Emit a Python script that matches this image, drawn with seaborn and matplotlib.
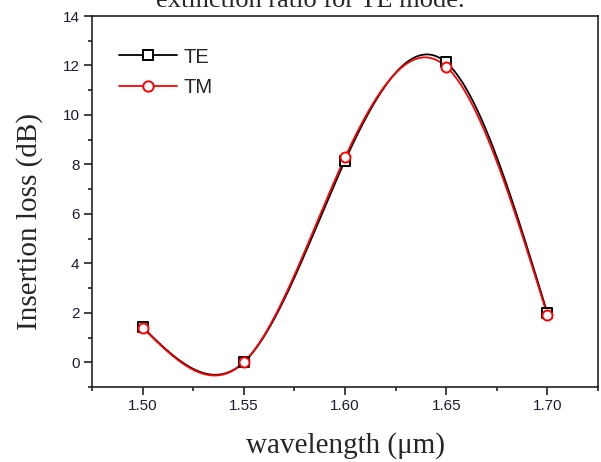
import numpy as np
import pandas as pd
import matplotlib
matplotlib.use("Agg")
import matplotlib.pyplot as plt
from matplotlib.lines import Line2D
from matplotlib.ticker import MultipleLocator, FormatStrFormatter
import seaborn as sns

# ---- data ----
wavelength = [1.50, 1.55, 1.60, 1.65, 1.70]
te_loss = [1.42, 0.00, 8.15, 12.12, 1.98]
tm_loss = [1.40, 0.00, 8.28, 11.95, 1.90]
series_names = ["TE", "TM"]
x_ticks = [1.50, 1.55, 1.60, 1.65, 1.70]
y_ticks = [0, 2, 4, 6, 8, 10, 12, 14]


def natural_spline(x, y, n=300):
    """Smooth (Origin-style spline) connection line through the measured points."""
    x = np.asarray(x, float)
    y = np.asarray(y, float)
    k = len(x)
    h = np.diff(x)
    A = np.zeros((k, k))
    b = np.zeros(k)
    A[0, 0] = A[-1, -1] = 1
    for i in range(1, k - 1):
        A[i, i - 1] = h[i - 1]
        A[i, i] = 2 * (h[i - 1] + h[i])
        A[i, i + 1] = h[i]
        b[i] = 6 * ((y[i + 1] - y[i]) / h[i] - (y[i] - y[i - 1]) / h[i - 1])
    M = np.linalg.solve(A, b)
    xs = np.linspace(x[0], x[-1], n)
    idx = np.clip(np.searchsorted(x, xs) - 1, 0, k - 2)
    x0, x1 = x[idx], x[idx + 1]
    hh = x1 - x0
    ys = (M[idx] * (x1 - xs) ** 3 / (6 * hh) + M[idx + 1] * (xs - x0) ** 3 / (6 * hh)
          + (y[idx] / hh - M[idx] * hh / 6) * (x1 - xs)
          + (y[idx + 1] / hh - M[idx + 1] * hh / 6) * (xs - x0))
    return xs, ys


sns.set_style("ticks")
plt.rcParams["font.family"] = ["Liberation Sans", "DejaVu Sans"]

fig = plt.figure(figsize=(6.01, 4.62), dpi=100)
ax = fig.add_axes([92 / 601, 1 - 387 / 462, (598 - 92) / 601, (387 - 16) / 462])

colors = {"TE": "black", "TM": "#ff0000"}
markers = {"TE": "s", "TM": "o"}
pts = pd.DataFrame({
    "wavelength": wavelength * 2,
    "loss": te_loss + tm_loss,
    "mode": ["TE"] * len(wavelength) + ["TM"] * len(wavelength),
})

for name, vals in zip(series_names, [te_loss, tm_loss]):
    xs, ys = natural_spline(wavelength, vals)
    curve = pd.DataFrame({"wavelength": xs, "loss": ys})
    sns.lineplot(data=curve, x="wavelength", y="loss", ax=ax, color=colors[name],
                 linewidth=1.3, zorder=2 if name == "TE" else 3, legend=False)

for name in series_names:
    sub = pts[pts["mode"] == name]
    sns.scatterplot(data=sub, x="wavelength", y="loss", ax=ax, marker=markers[name],
                    s=52, facecolor="white", edgecolor=colors[name], linewidth=1.4,
                    zorder=4 if name == "TE" else 5, legend=False)

ax.set_xlim(1.475, 1.725)
ax.set_ylim(-1, 14)
ax.set_xticks(x_ticks)
ax.set_yticks(y_ticks)
ax.xaxis.set_minor_locator(MultipleLocator(0.025))
ax.yaxis.set_minor_locator(MultipleLocator(1))
ax.xaxis.set_major_formatter(FormatStrFormatter("%.2f"))
ax.set_xlabel("")
ax.set_ylabel("")

for side in ["left", "bottom", "top", "right"]:
    ax.spines[side].set_visible(True)
    ax.spines[side].set_linewidth(1.2)
    ax.spines[side].set_color("#222222")

ax.tick_params(axis="both", which="major", direction="out", length=6, width=1.2,
               color="#222222", labelsize=11, labelcolor="#1c1c30", pad=3,
               top=False, right=False)
ax.tick_params(axis="both", which="minor", direction="out", length=3, width=1.2,
               color="#222222", top=False, right=False)

handles = [
    Line2D([], [], color="black", marker="s", markersize=7.5, markerfacecolor="white",
           markeredgewidth=1.4, linewidth=1.3),
    Line2D([], [], color="#ff0000", marker="o", markersize=7.5, markerfacecolor="white",
           markeredgewidth=1.4, linewidth=1.3),
]
ax.legend(handles, series_names, loc="upper left", bbox_to_anchor=(0.053, 0.915),
          frameon=False, fontsize=14.5, handlelength=2.9, handletextpad=0.3,
          labelspacing=0.55, borderpad=0, borderaxespad=0)

serif = ["Liberation Serif", "DejaVu Serif"]
fig.text(310 / 601, 1 - 7 / 462, "extinction ratio for TE mode.", ha="center",
         va="baseline", fontsize=19, family=serif)
fig.text(30 / 601, 1 - 221.5 / 462, "Insertion loss (dB)", rotation=90, ha="center",
         va="center", fontsize=21, family=serif)
fig.text(346 / 601, 1 - 453 / 462, "wavelength (\u03bcm)", ha="center", va="baseline",
         fontsize=21, family=serif)

fig.savefig("out.png", dpi=100)
